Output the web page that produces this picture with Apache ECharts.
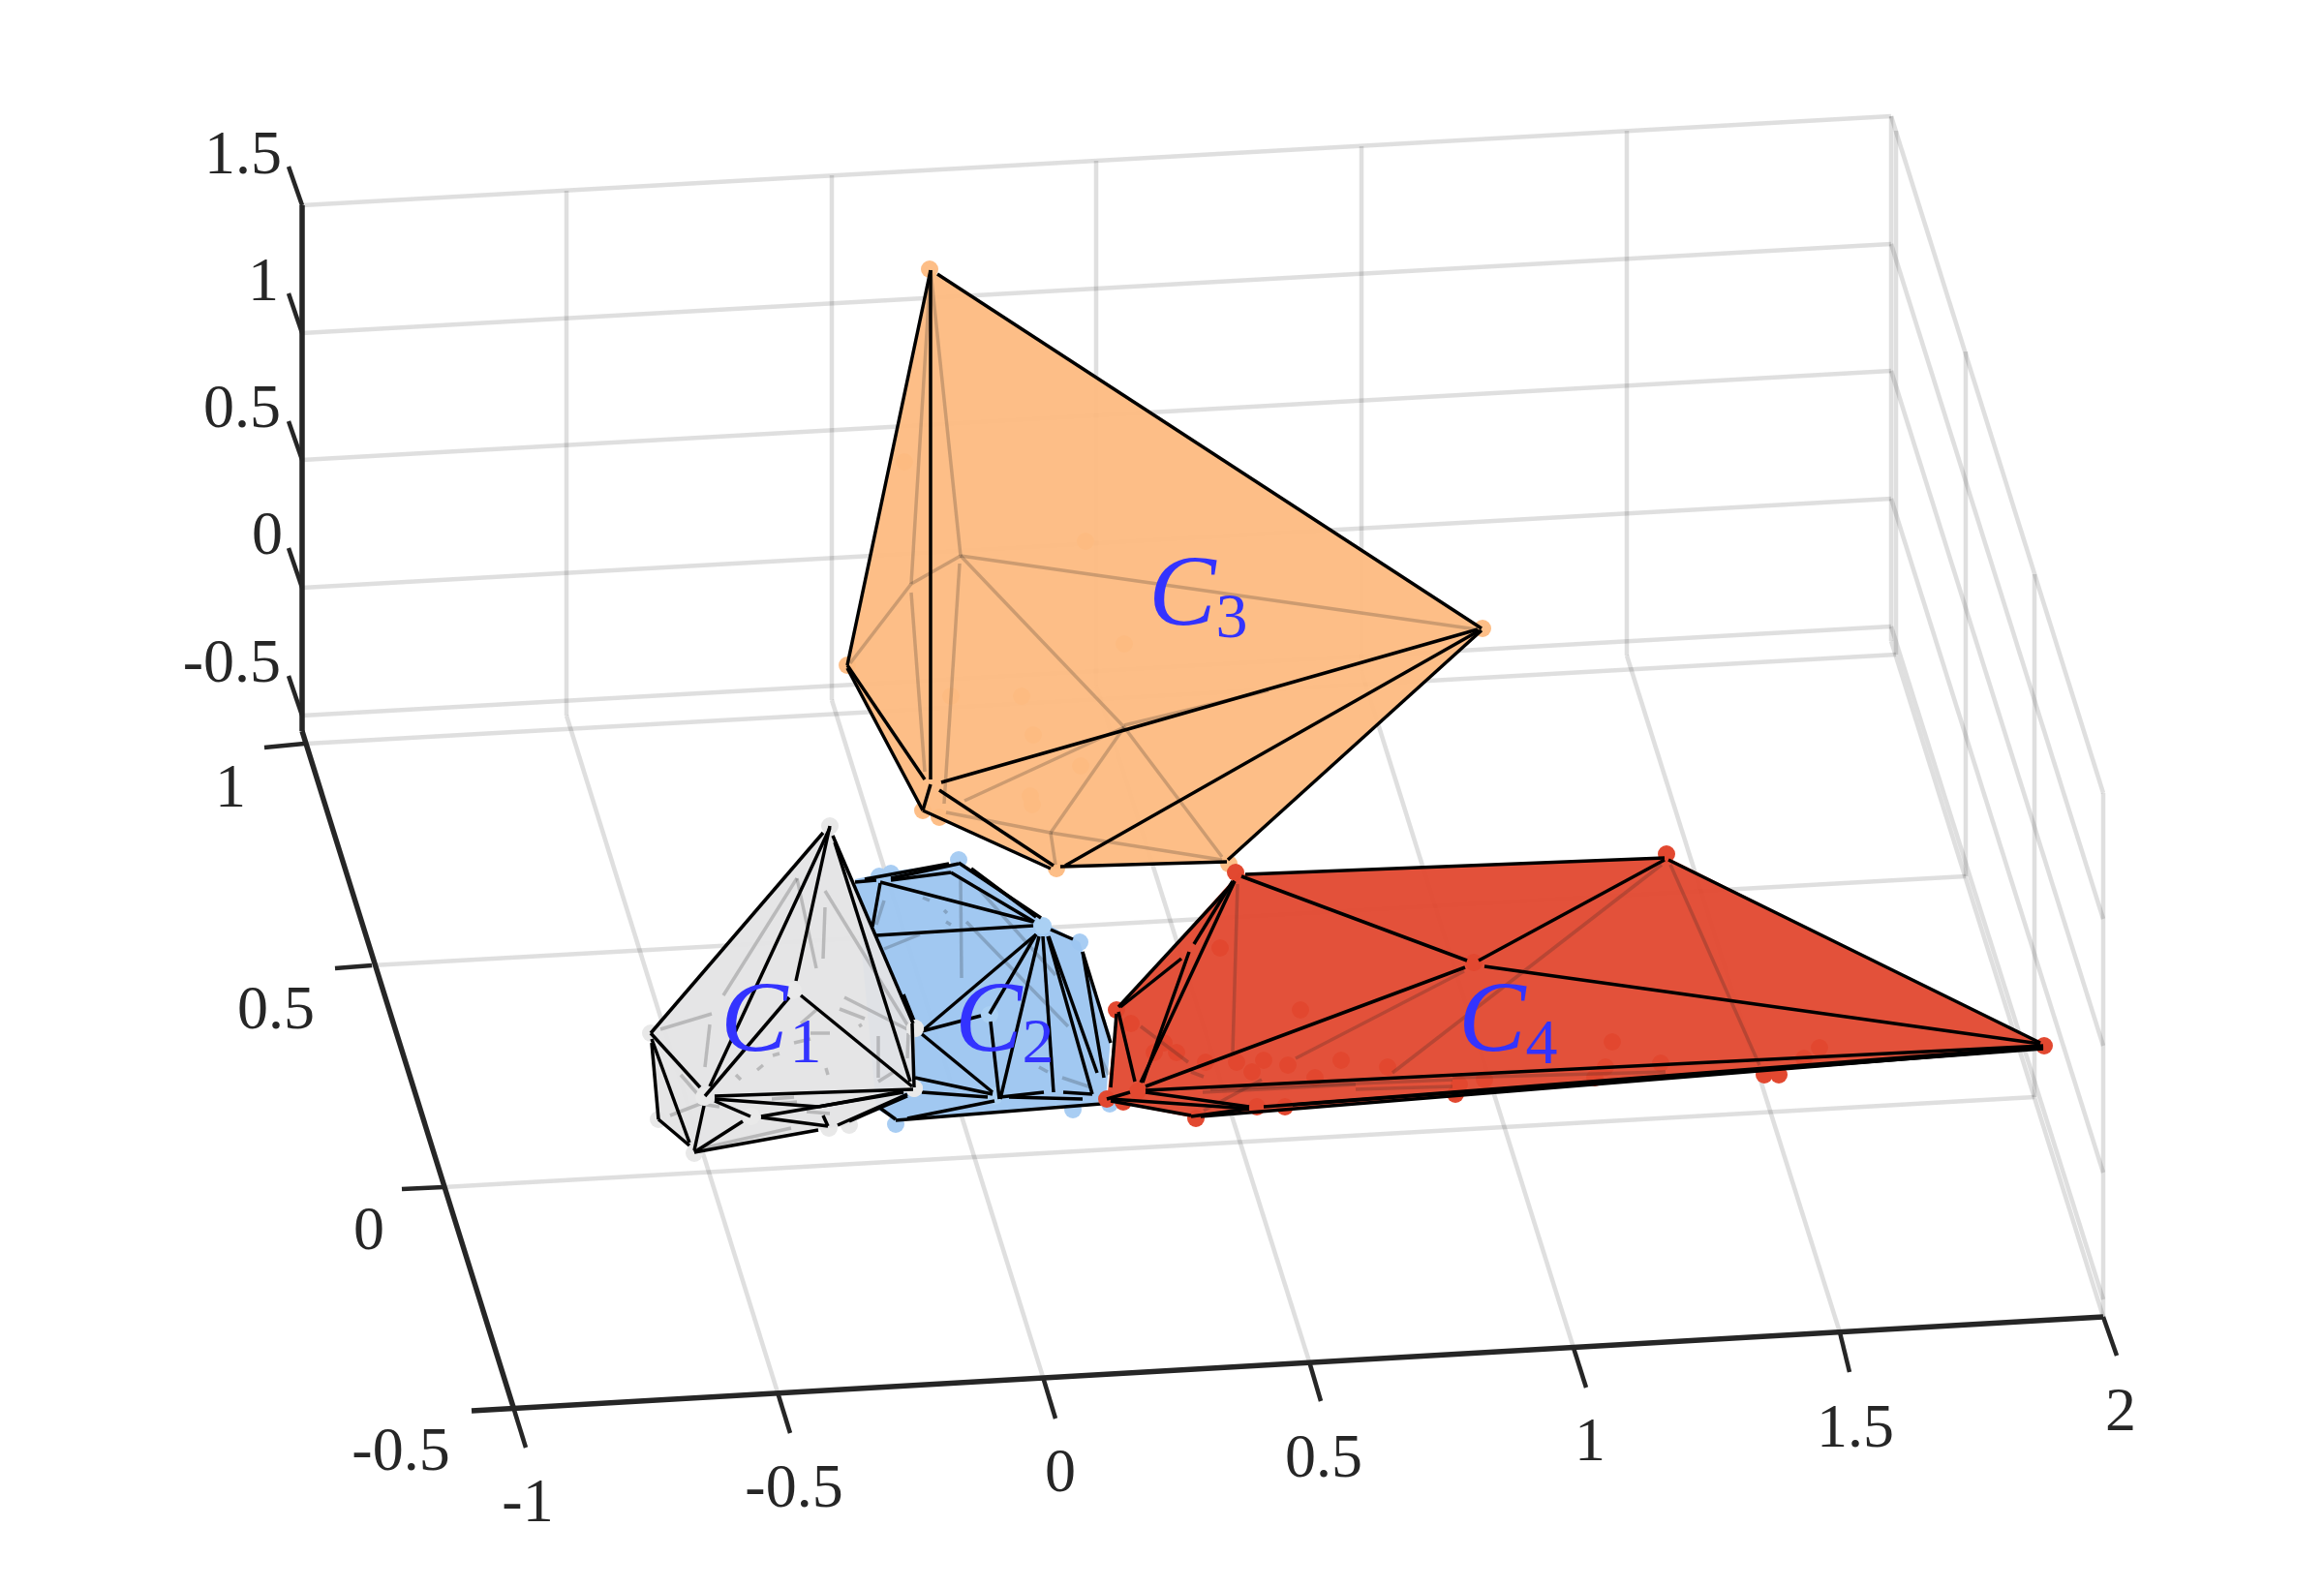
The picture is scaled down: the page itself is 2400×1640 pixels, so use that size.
<!DOCTYPE html>
<html><head><meta charset="utf-8">
<script src="https://cdn.jsdelivr.net/npm/echarts@6/dist/echarts.min.js"></script>
<style>html,body{margin:0;padding:0;background:#fff}#c{width:2400px;height:1640px}</style>
</head><body><div id="c"></div>
<script>
// All values below are projected positions.
const gridBack = [[312,212,1953,120],[312,344,1953,252],[312,475,1953,383],[312,607,1953,515],[312,739,1953,647],
 [312,212,312,754],[585,197,585,739],[859,181,859,723],[1132,166,1132,708],[1406,151,1406,693],[1680,135,1680,677],[1953,120,1953,662]];
const gridFloor = [[585,739,803,1438],[859,723,1077,1422],[1132,708,1352,1406],[1406,693,1625,1392],[1680,677,1900,1376],[1953,662,2172,1360],
 [316,768,1958,676],[384,997,2030,905],[458,1226,2101,1133]];
const gridRight = [[1953,120,2172,819],[1953,252,2172,949],[1953,383,2172,1080],[1953,515,2172,1211],[1953,647,2172,1342],
 [1958,135,1958,676],[2030,363,2030,905],[2101,593,2101,1133],[2172,819,2172,1360]];
const axisLines = [[312,212,312,755],[312,755,530,1453],[487,1457,2172,1360]];
const zTicks = [[312,212,298,172],[312,344,298,303],[312,475,298,435],[312,607,298,566],[312,739,298,698]];
const yTicks = [[314,768,273,772],[384,997,346,1000],[458,1226,415,1228]];
const xTicks = [[530,1453,543,1495],[803,1438,816,1480],[1077,1422,1090,1465],[1352,1406,1364,1447],[1625,1392,1638,1433],[1900,1376,1910,1417],[2172,1360,2186,1400]];

const zTickLabels = ['1.5','1','0.5','0','-0.5'];
const zTickLabelAt = [[291,162],[288,293],[290,424],[292,555],[290,687]];
const yTickLabels = ['1','0.5','0','-0.5'];
const yTickLabelAt = [[238,816],[285,1045],[381,1273],[414,1501]];
const xTickLabels = ['-1','-0.5','0','0.5','1','1.5','2'];
const xTickLabelAt = [[545,1554],[820,1539],[1095,1523],[1367,1508],[1642,1491],[1916,1477],[2190,1460]];

const setNames = ['C','C','C','C'];
const setSubs = ['1','2','3','4'];
const setNameAt = [[779,1058],[1021,1058],[1221,618],[1541,1058]];
const setSubAt = [[832,1080],[1072,1080],[1272,641],[1592,1081]];

const c1Hull = [[857,853],[945,1062],[944,1123],[877,1162],[856,1165],[717,1191],[680,1156],[671,1067]];
const c1Hidden = [[682,1063,735,1047],[733,1058,728,1102],[747,1028,823,907],[823,907,843,1000],[852,920,938,1060],[852,937,850,990],[703,1110,723,1133],[692,1152,723,1140],[723,1140,743,1143],[720,1187,817,1165],[867,1042,893,1052],[872,1030,937,1063],[827,1057,843,1043],[837,1067,857,1067],[820,1077,837,1073],[887,1060,890,1058],[798,1090,805,1088],[782,1105,788,1100],[907,1070,907,1113],[938,1067,937,1093],[853,1103,855,1110],[760,1110,765,1115],[907,1117,923,1107],[797,1135,820,1133],[803,1140,823,1138],[833,1148,857,1150]];
const c1Edges = [[850,860,672,1067],[857,855,733,1122],[857,853,822,1013],[860,863,943,1057],[862,870,940,1117],[672,1067,723,1123],[673,1077,680,1156],[673,1073,712,1180],[680,1156,712,1183],[815,1030,728,1132],[827,1028,942,1122],[738,1132,943,1125],[727,1142,717,1188],[738,1135,845,1143],[845,1143,933,1127],[738,1137,775,1153],[786,1153,933,1128],[786,1154,855,1163],[850,1152,855,1163],[865,1162,937,1130],[877,1158,937,1132],[717,1190,845,1167],[717,1190,767,1158],[942,1057,944,1123]];
const c1Back = [[857,853],[672,1067],[680,1156],[717,1191],[856,1165],[877,1162],[945,1062],[944,1124]];
const c1Front = [[819,1023],[727,1133],[776,1153],[944,1124],[945,1062]];

const c2Hull = [[883,908],[920,900],[990,891],[1077,952],[1115,973],[1147,1070],[1142,1137],[1108,1143],[925,1157],[905,1145]];
const c2Hidden = [[913,930,905,955],[913,980,950,965],[992,907,993,1010],[998,952,1103,1060],[1010,917,1090,1007],[975,940,978,943],[977,952,982,955],[953,927,960,930],[1073,1102,1082,1107],[1097,1113,1127,1123],[1137,1093,1145,1110]];
const c2Edges = [[893,908,980,892],[883,911,905,909],[920,907,990,892],[920,909,982,901],[982,901,1068,952],[990,891,1075,948],[1003,897,1070,947],[909,911,1067,952],[909,912,901,957],[905,966,1067,956],[1085,960,1108,970],[1118,983,1140,1113],[1118,983,1147,1077],[1070,965,952,1065],[1070,965,1022,1047],[1073,967,1033,1135],[1077,967,1088,1128],[1082,967,1128,1130],[1083,967,1133,1108],[952,1065,1013,1049],[952,1068,1025,1128],[1023,1055,1032,1135],[1033,1133,1078,1128],[1098,1128,1128,1130],[1042,1133,1118,1135],[945,1113,1025,1130],[952,1128,1020,1133],[937,1155,1027,1137],[925,1157,1137,1140],[907,1143,925,1156],[933,1027,945,1057]];
const c2Back = [[990,888],[920,902],[908,905],[1115,973],[925,1161],[1108,1146],[1146,1140]];
const c2Front = [[1077,956],[1027,1132],[1022,1048]];

const c3Hull = [[961,279],[1530,649],[1268,890],[1090,897],[953,837],[875,687]];
const c3Hidden = [[992,574,961,279],[941,603,961,279],[992,574,941,603],[992,574,1525,650],[992,574,1161,751],[1161,751,1262,885],[1161,751,1085,860],[1085,860,1090,893],[1085,860,1262,888],[941,603,878,685],[941,612,955,797],[991,582,975,830],[1161,751,996,827],[977,839,1085,860],[1161,749,1310,713]];
const c3Edges = [[968,283,1530,649],[961,279,875,687],[961,279,961,805],[972,808,1526,650],[1100,894,1528,651],[1268,888,1530,651],[1095,895,1267,890],[875,687,955,805],[875,690,953,837],[961,810,953,837],[953,837,1085,897],[970,816,1088,894]];
const c3Back = [[960,278],[1531,649],[875,687],[1091,897],[1269,892],[953,837],[970,844],[934,477],[1121,559],[1161,665],[982,719],[1055,719],[1067,759],[1116,791],[1064,822],[1066,831]];
const c3Front = [[961,810]];

const c4Hull = [[1278,903],[1721,885],[2111,1080],[1240,1154],[1235,1155],[1143,1137],[1153,1043]];
const c4Hidden = [[1278,913,1273,1087],[1338,1093,1512,1003],[1178,1060,1227,1097],[1243,1147,1303,1115],[1242,1128,1400,1120],[1250,1125,1500,1115],[1716,893,1438,1108],[1725,893,1817,1100],[1230,1107,1243,1112],[1400,1125,1500,1122],[1500,1113,1720,1107]];
const c4Edges = [[1286,903,1719,886],[1723,888,2107,1077],[1282,905,1515,992],[1719,888,1527,992],[1533,998,2107,1078],[1183,1122,1513,999],[1183,1126,2110,1080],[1275,910,1155,1040],[1275,910,1178,1118],[1273,910,1233,975],[1228,983,1180,1118],[1157,1040,1220,990],[1155,1045,1172,1117],[1153,1047,1147,1123],[1143,1135,1167,1128],[1183,1128,1290,1143],[1147,1135,1290,1145],[1147,1137,1230,1152],[1230,1153,1290,1145],[1305,1143,2110,1081],[1240,1153,2110,1082],[1335,1141,2110,1083]];
const c4Back = [[1276,901],[1721,882],[2111,1080],[1153,1043],[1143,1135],[1160,1138],[1235,1155],[1327,1143],[1647,1113],[1822,1110],[1837,1110],[1503,1130],[1260,979],[1343,1043],[1168,1057],[1192,1087],[1215,1087],[1245,1097],[1305,1095],[1330,1100],[1385,1095],[1358,1113],[1202,1077],[1277,1097],[1293,1107],[1433,1102],[1665,1076],[1658,1102],[1715,1098],[1879,1082],[1863,1093],[1533,1115],[1507,1120]];
const c4Front = [[1175,1127],[1298,1143],[1522,994]];

const GRID = 'rgba(38,38,38,0.15)', AXIS = '#262626', HIDDEN = 'rgba(30,30,30,0.22)', INK = '#000';
const LABEL_BLUE = '#3333FF';
const serif = '"Liberation Serif", serif';
let z = 1;

function segs(data, color, width) {
  return { type:'custom', coordinateSystem:'cartesian2d', silent:true, z:z++, clip:false, data,
    encode:{x:[0,2],y:[1,3]},
    renderItem:(p,api)=>{
      const a=api.coord([api.value(0),api.value(1)]), b=api.coord([api.value(2),api.value(3)]);
      return {type:'line',shape:{x1:a[0],y1:a[1],x2:b[0],y2:b[1]},style:{stroke:color,lineWidth:width,lineCap:'butt',fill:null}};
    }};
}
function poly(hull, color) {
  return { type:'custom', coordinateSystem:'cartesian2d', silent:true, z:z++, clip:false, data:hull,
    encode:{x:0,y:1},
    renderItem:(p,api)=>{
      if(p.dataIndex!==0) return null;
      return {type:'polygon',shape:{points:hull.map(v=>api.coord(v))},style:{fill:color,stroke:null}};
    }};
}
function dots(points, color, size) {
  return { type:'scatter', silent:true, z:z++, clip:false, data:points, symbol:'circle', symbolSize:size,
    itemStyle:{color,opacity:1}, emphasis:{disabled:true} };
}
function texts(labels, at, font, color, align) {
  return { type:'custom', coordinateSystem:'cartesian2d', silent:true, z:z++, clip:false, data:at,
    encode:{x:0,y:1},
    renderItem:(p,api)=>{
      const c=api.coord([api.value(0),api.value(1)]);
      return {type:'text',style:{text:labels[p.dataIndex],x:c[0],y:c[1],font,fill:color,align:align||'center',verticalAlign:'middle'}};
    }};
}
function polytope(hull, hidden, edges, back, front, fill, marker, frontMarker) {
  return [dots(back, marker, 18), poly(hull, fill), segs(hidden, HIDDEN, 3.5), dots(front, frontMarker, 18), segs(edges, INK, 3.5)];
}

const series = [
  segs(gridBack, GRID, 4.5), segs(gridFloor, GRID, 4.5), segs(gridRight, GRID, 4.5),
  segs(axisLines, AXIS, 5.5), segs(zTicks, AXIS, 4.5), segs(yTicks, AXIS, 4.5), segs(xTicks, AXIS, 4.5),
  ...polytope(c2Hull, c2Hidden, c2Edges, c2Back, c2Front, 'rgba(156,197,240,0.95)', '#A8CDF3', '#AAD0F3'),
  ...polytope(c1Hull, c1Hidden, c1Edges, c1Back, c1Front, 'rgba(228,228,229,0.95)', '#E8E8E8', '#E9E9E9'),
  ...polytope(c3Hull, c3Hidden, c3Edges, c3Back, c3Front, 'rgba(253,186,129,0.95)', '#FDBE87', '#FDBE87'),
  ...polytope(c4Hull, c4Hidden, c4Edges, c4Back, c4Front, 'rgba(226,72,47,0.95)', '#E24830', '#E24830'),
  texts(zTickLabels, zTickLabelAt, '64px '+serif, AXIS, 'right'),
  texts(yTickLabels, yTickLabelAt, '64px '+serif, AXIS),
  texts(xTickLabels, xTickLabelAt, '64px '+serif, AXIS),
  texts(setNames, setNameAt, 'italic 104px '+serif, LABEL_BLUE),
  texts(setSubs, setSubAt, '66px '+serif, LABEL_BLUE)
];

const chart = echarts.init(document.getElementById('c'), null, {renderer:'canvas'});
chart.setOption({
  animation:false, backgroundColor:'#fff',
  grid:{left:0,right:0,top:0,bottom:0},
  xAxis:{type:'value',min:0,max:2400,show:false},
  yAxis:{type:'value',min:0,max:1640,inverse:true,show:false},
  series
});
</script></body></html>
